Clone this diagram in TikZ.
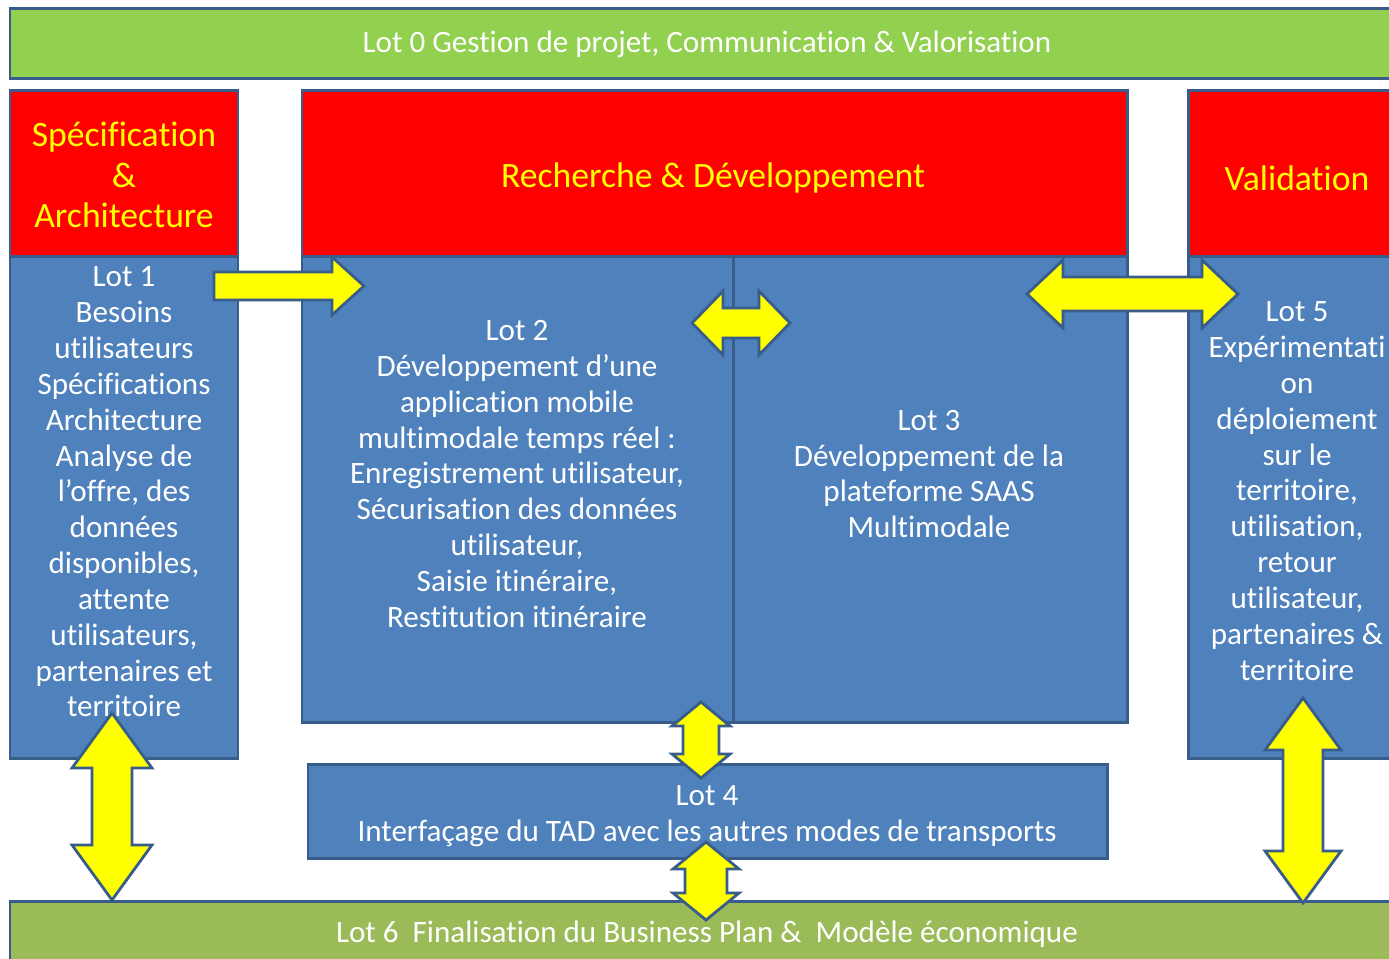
\documentclass[tikz,border=0pt]{standalone}
\usepackage{fontspec}
\setmainfont[RawFeature={-liga;-clig;-dlig;-calt}]{Carlito}
\definecolor{bord}{HTML}{385D8A}
\definecolor{lgreen}{HTML}{92D050}
\definecolor{ogreen}{HTML}{9BBB59}
\definecolor{hred}{HTML}{FF0000}
\definecolor{lblue}{HTML}{4F81BD}
\definecolor{ayel}{HTML}{FFFF00}
\tikzset{
  boxb/.style={draw=bord, line width=1.7pt, fill=lblue},
  boxr/.style={draw=bord, line width=1.7pt, fill=hred},
  boxg/.style={draw=bord, line width=1.7pt, fill=lgreen},
  boxo/.style={draw=bord, line width=1.7pt, fill=ogreen},
  yarrow/.style={draw=bord, line width=1.6pt, fill=ayel, line join=miter},
  bodytxt/.style={text=white, align=center, inner sep=0pt, font=\fontsize{17.7}{20.4}\selectfont},
  headtxt/.style={text=ayel, align=center, inner sep=0pt, font=\fontsize{20.3}{23.2}\selectfont}
}
\newcommand\dblV[6]{% center x, top y, bottom y, head half, shaft half, head length
  \path[yarrow] (#1,#2) -- ({#1+#4},{#2+#6}) -- ({#1+#5},{#2+#6}) -- ({#1+#5},{#3-#6}) -- ({#1+#4},{#3-#6}) -- (#1,#3)
   -- ({#1-#4},{#3-#6}) -- ({#1-#5},{#3-#6}) -- ({#1-#5},{#2+#6}) -- ({#1-#4},{#2+#6}) -- cycle;}
\newcommand\dblH[6]{% center y, left x, right x, head half, shaft half, head length
  \path[yarrow] (#2,#1) -- ({#2+#6},{#1-#4}) -- ({#2+#6},{#1-#5}) -- ({#3-#6},{#1-#5}) -- ({#3-#6},{#1-#4}) -- (#3,#1)
   -- ({#3-#6},{#1+#4}) -- ({#3-#6},{#1+#5}) -- ({#2+#6},{#1+#5}) -- ({#2+#6},{#1+#4}) -- cycle;}
\newcommand\sglH[6]{% center y, left x, tip x, head half, shaft half, head length
  \path[yarrow] (#2,{#1-#5}) -- ({#3-#6},{#1-#5}) -- ({#3-#6},{#1-#4}) -- (#3,#1) -- ({#3-#6},{#1+#4}) -- ({#3-#6},{#1+#5}) -- (#2,{#1+#5}) -- cycle;}
\begin{document}
\begin{tikzpicture}[x=0.02cm,y=-0.02cm]
\useasboundingbox (0,0) rectangle (1389,958);
\begin{scope}
\clip (0,0) rectangle (1389,958);
% top bar
\draw[boxg] (10,8) rectangle (1410,78);
\node[bodytxt] (lot0) at (707,44) {Lot 0 Gestion de projet, Communication \& Valorisation};
% left column
\draw[boxb] (10,90) rectangle (238,758);
\draw[boxr] (10,90) rectangle (238,256);
\node[headtxt] (spec) at (124,175) {Spécification\\\&\\Architecture};
\node[bodytxt] (lot1) at (124,492) {Lot 1\\Besoins\\utilisateurs\\Spécifications\\Architecture\\Analyse de\\l’offre, des\\données\\disponibles,\\attente\\utilisateurs,\\partenaires et\\territoire};
% middle
\draw[boxb] (302,256) rectangle (1127,722);
\draw[bord, line width=1.7pt] (733,256) -- (733,722);
\draw[boxr] (302,90) rectangle (1127,256);
\node[headtxt] (rd) at (713,178) {Recherche \& Développement};
\node[bodytxt] (lot2) at (517,474) {Lot 2\\Développement d’une\\application mobile\\multimodale temps réel :\\Enregistrement utilisateur,\\Sécurisation des données\\utilisateur,\\Saisie itinéraire,\\Restitution itinéraire};
\node[bodytxt] (lot3) at (929,474) {Lot 3\\Développement de la\\plateforme SAAS\\Multimodale};
% right column
\draw[boxb] (1188,90) rectangle (1410,758);
\draw[boxr] (1188,90) rectangle (1410,256);
\node[headtxt] (valid) at (1297,178) {Validation};
\node[bodytxt] (lot5) at (1297,491) {Lot 5\\Expérimentati\\on\\déploiement\\sur le\\territoire,\\utilisation,\\retour\\utilisateur,\\partenaires \&\\territoire};
% lot 4
\draw[boxb] (308,764) rectangle (1107,858);
\node[bodytxt] (lot4) at (707,816) {Lot 4\\Interfaçage du TAD avec les autres modes de transports};
% bottom bar
\draw[boxo] (10,901) rectangle (1410,980);
\node[bodytxt] (lot6) at (707,934) {Lot 6~ Finalisation du Business Plan \&~ Modèle économique};
% arrows
\sglH{286}{214}{364}{29}{14}{32}
\dblH{323}{692}{790}{32}{15}{31}
\dblH{294}{1027}{1238}{34}{17}{36}
\dblV{112}{713}{900}{40}{20}{55}
\dblV{701}{702}{778}{29}{18}{24}
\dblV{706}{842}{920}{33}{21}{27}
\dblV{1303}{698}{903}{38}{20}{52}
\end{scope}
\end{tikzpicture}
\end{document}
